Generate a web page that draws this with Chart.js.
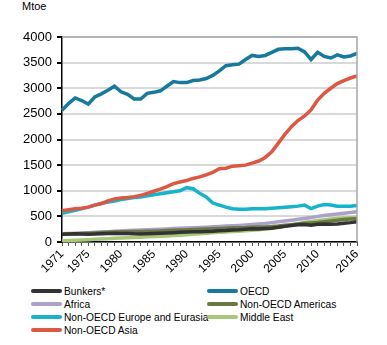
<!DOCTYPE html>
<html>
<head>
<meta charset="utf-8">
<script src="https://cdn.jsdelivr.net/npm/chart.js@4"></script>
<style>
  body { margin: 0; background: #fff; font-family: "Liberation Sans", Arial, sans-serif; }
  #wrap { position: relative; width: 387px; height: 345px; }
  #box { position: absolute; left: 0; top: 0; width: 387px; height: 280px; }
  #unit { position: absolute; left: 22px; top: 0px; font-size: 11px; color: #000; }
  .lg { position: absolute; font-size: 10.2px; color: #000; height: 13px; line-height: 13px; white-space: nowrap; }
  .lg span.sw { display: inline-block; width: 31px; height: 4px; border-radius: 2px; vertical-align: middle; margin-right: 2px; position: relative; top: -1px; }
</style>
</head>
<body>
<div id="wrap">
  <div id="unit">Mtoe</div>
  <div id="box"><canvas id="grafik"></canvas></div>
  <div id="legend"></div>
</div>
<script>
const tahun = [];
for (let y = 1971; y <= 2016; y++) tahun.push(y);
const labelTampil = [1971, 1975, 1980, 1985, 1990, 1995, 2000, 2005, 2010, 2016];

const bunkers = [150, 155, 160, 155, 152, 156, 160, 165, 170, 168,
  165, 160, 158, 162, 165, 170, 175, 182, 188, 195,
  198, 202, 205, 210, 218, 225, 235, 240, 248, 258,
  255, 262, 270, 290, 305, 320, 335, 340, 325, 345,
  350, 348, 352, 365, 378, 395];
const oecd = [2570, 2700, 2810, 2760, 2690, 2830, 2890, 2960, 3040, 2930,
  2880, 2790, 2790, 2900, 2920, 2950, 3040, 3130, 3110, 3110,
  3150, 3160, 3190, 3250, 3340, 3440, 3460, 3470, 3560, 3640,
  3620, 3640, 3700, 3760, 3770, 3770, 3780, 3710, 3560, 3700,
  3620, 3590, 3650, 3610, 3630, 3680];
const africa = [160, 165, 170, 176, 182, 188, 195, 202, 209, 216,
  222, 228, 233, 238, 244, 250, 256, 262, 268, 274,
  280, 285, 290, 296, 303, 310, 317, 324, 332, 340,
  350, 362, 378, 393, 408, 425, 442, 460, 480, 500,
  515, 530, 545, 560, 575, 592];
const amerika = [150, 155, 162, 168, 172, 178, 184, 190, 196, 200,
  202, 203, 205, 208, 212, 216, 222, 228, 232, 236,
  242, 248, 252, 258, 264, 270, 276, 280, 282, 288,
  292, 295, 302, 312, 325, 338, 352, 365, 372, 380,
  395, 410, 425, 438, 448, 455];
const eropa = [560, 590, 620, 650, 680, 720, 750, 780, 800, 830,
  850, 870, 880, 900, 920, 940, 960, 980, 1000, 1060,
  1040, 950, 880, 760, 720, 680, 650, 640, 640, 650,
  650, 650, 660, 670, 680, 690, 700, 720, 650, 700,
  730, 720, 700, 700, 700, 710];
const timurTengah = [25, 30, 35, 40, 45, 52, 58, 65, 72, 78,
  85, 90, 95, 100, 106, 112, 118, 125, 132, 140,
  150, 160, 170, 180, 188, 195, 205, 212, 220, 228,
  240, 252, 268, 285, 305, 330, 355, 380, 400, 420,
  435, 450, 460, 468, 475, 482];
const asia = [610, 630, 650, 660, 680, 720, 750, 800, 840, 860,
  870, 885, 910, 950, 990, 1030, 1080, 1140, 1170, 1200,
  1240, 1270, 1310, 1360, 1430, 1440, 1480, 1490, 1500, 1540,
  1580, 1650, 1760, 1930, 2100, 2250, 2370, 2460, 2580, 2770,
  2900, 3000, 3090, 3150, 3200, 3240];

// urutan legenda: baris demi baris, dua kolom
const seri = [
  { label: 'Bunkers*', data: bunkers, warna: '#333333' },
  { label: 'OECD', data: oecd, warna: '#17799b' },
  { label: 'Africa', data: africa, warna: '#aaa2c9' },
  { label: 'Non-OECD Americas', data: amerika, warna: '#6b7846' },
  { label: 'Non-OECD Europe and Eurasia', data: eropa, warna: '#16b3cb' },
  { label: 'Middle East', data: timurTengah, warna: '#a8c878' },
  { label: 'Non-OECD Asia', data: asia, warna: '#dc5843' }
];

// urutan gambar (pertama = paling atas)
const urutan = ['Non-OECD Asia', 'OECD', 'Non-OECD Europe and Eurasia', 'Bunkers*', 'Non-OECD Americas', 'Middle East', 'Africa'];

const bingkai = {
  id: 'bingkai',
  afterDraw(chart) {
    const a = chart.chartArea, c = chart.ctx;
    c.save();
    c.strokeStyle = '#a6a6a6';
    c.lineWidth = 1.5;
    c.beginPath();
    c.moveTo(a.left, a.top);
    c.lineTo(a.right, a.top);
    c.lineTo(a.right, a.bottom);
    c.stroke();
    c.restore();
  }
};

const ctx = document.getElementById('grafik').getContext('2d');
new Chart(ctx, {
  type: 'line',
  data: {
    labels: tahun,
    datasets: seri.map(s => ({
      label: s.label,
      data: s.data,
      borderColor: s.warna,
      backgroundColor: s.warna,
      borderWidth: 3.5,
      pointRadius: 0,
      tension: 0,
      order: urutan.indexOf(s.label)
    }))
  },
  options: {
    responsive: true,
    maintainAspectRatio: false,
    animation: false,
    layout: { padding: { top: 37, right: 30, left: 0, bottom: 0 } },
    plugins: { legend: { display: false }, tooltip: { enabled: false } },
    scales: {
      x: {
        afterFit(s) { s.height = 38; },
        grid: { display: true, drawOnChartArea: false, drawTicks: true, tickLength: 4, color: '#000', tickColor: '#555' },
        border: { display: true, color: '#000', width: 1.5 },
        ticks: {
          autoSkip: false, maxRotation: 45, minRotation: 45, padding: 1,
          color: '#000', font: { family: '"Liberation Sans", Arial', size: 12 },
          callback(v) { const t = tahun[v]; return labelTampil.includes(t) ? String(t) : ''; }
        }
      },
      y: {
        min: 0, max: 4000,
        afterFit(s) { s.width = 62; },
        grid: { color: '#d9d9d9', lineWidth: 2, drawTicks: true, tickLength: 5, tickColor: '#000' },
        border: { display: true, color: '#000', width: 1.5 },
        ticks: {
          stepSize: 500, padding: 5, color: '#000',
          font: { family: '"Liberation Sans", Arial', size: 13 },
          callback(v) { return String(v); }
        }
      }
    }
  },
  plugins: [bingkai]
});

// legenda HTML dua kolom
const legend = document.getElementById('legend');
seri.forEach((s, i) => {
  const kol = i % 2, baris = Math.floor(i / 2);
  const el = document.createElement('div');
  el.className = 'lg';
  el.style.left = (kol === 0 ? 31 : 207) + 'px';
  el.style.top = (285 + baris * 13) + 'px';
  el.innerHTML = `<span class="sw" style="background:${s.warna}"></span>${s.label}`;
  legend.appendChild(el);
});
</script>
</body>
</html>
